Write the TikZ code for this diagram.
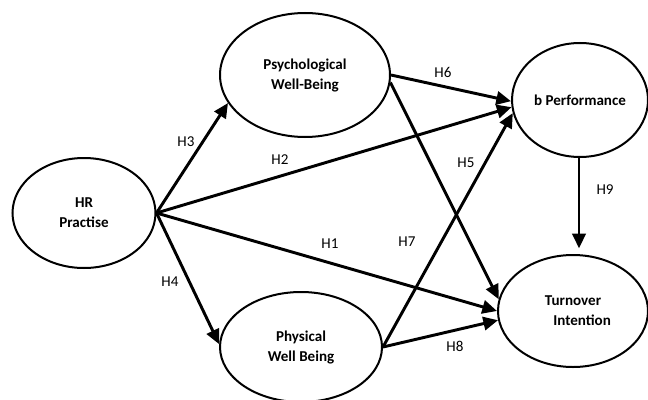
\documentclass[tikz,border=0pt]{standalone}
\usepackage{fontspec}
\setmainfont{Carlito}
\usetikzlibrary{shapes.geometric,arrows.meta}
\begin{document}
\begin{tikzpicture}[x=0.75pt,y=-0.75pt,
  ell/.style={ellipse,draw,line width=1.5pt,inner sep=0pt,align=center,
    font=\fontsize{11.3}{15}\selectfont\bfseries},
  arr/.style={line width=2.2pt,-{Triangle[length=11pt,width=10pt]}},
  lab/.style={inner sep=0pt,font=\fontsize{11.3}{12}\selectfont}]
\useasboundingbox (0,0) rectangle (648,399);
\node[ell,minimum width=107.25pt,minimum height=82.5pt] (hr) at (84,213) {HR\\Practise};
\node[ell,minimum width=127.5pt,minimum height=93pt] (psy) at (305,75) {Psychological\\Well-Being};
\node[ell,minimum width=102pt,minimum height=85.5pt] (jp) at (580,100) {b Performance};
\node[ell,minimum width=112.5pt,minimum height=84pt] (to) at (573,311) {Turnover\\\hspace*{1.2em}Intention};
\node[ell,minimum width=121.5pt,minimum height=82.5pt] (phys) at (301,347) {Physical\\Well Being};
\draw[arr] (hr.east) -- (psy.200);
\draw[arr] (hr.east) -- (phys.178);
\draw[arr] (hr.east) -- (jp.186);
\draw[arr] (hr.east) -- (to.180);
\draw[arr] (psy.east) -- (jp.181);
\draw[arr] (psy.355) -- (to.171);
\draw[arr] (phys.east) -- (jp.191);
\draw[arr] (phys.east) -- (to.187);
\draw[arr] (jp.south -| 579,0) -- ([yshift=5pt]579,255);
\node[lab] (h3) at (186,142) {H3};
\node[lab] (h2) at (280,160) {H2};
\node[lab] (h6) at (443,72) {H6};
\node[lab] (h5) at (466,163) {H5};
\node[lab] (h9) at (605,190) {H9};
\node[lab] (h1) at (330,244) {H1};
\node[lab] (h7) at (407,242) {H7};
\node[lab] (h8) at (455,346) {H8};
\node[lab] (h4) at (170,282) {H4};
\end{tikzpicture}
\end{document}
